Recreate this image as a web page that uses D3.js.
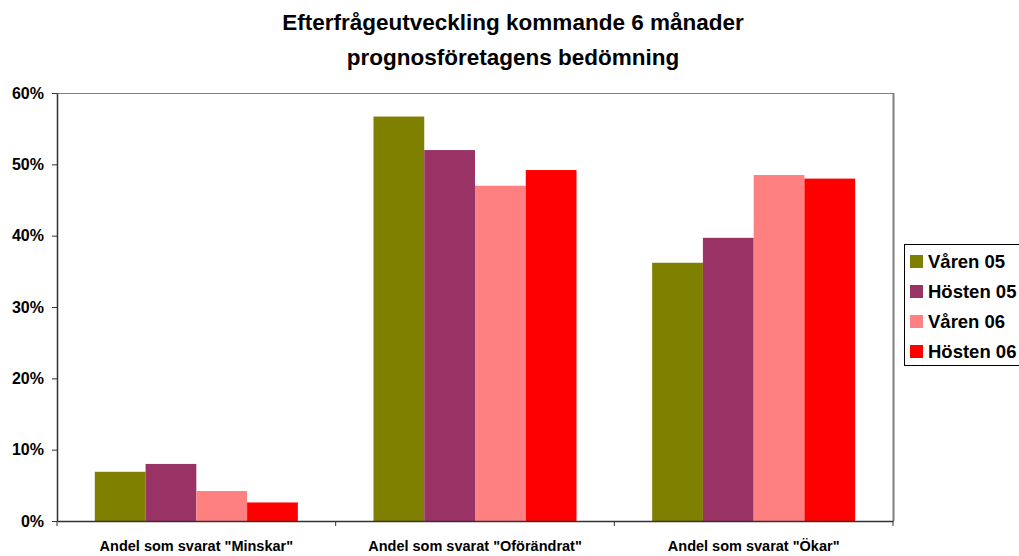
<!DOCTYPE html>
<html>
<head>
<meta charset="utf-8">
<script src="https://cdn.jsdelivr.net/npm/d3@7"></script>
<style>
  body { margin: 0; background: #fff; }
  svg text { font-family: "Liberation Sans", Arial, sans-serif; font-weight: bold; fill: #000; }
</style>
</head>
<body>
<svg id="chart"></svg>
<script>
// chart data
const categories = ['Andel som svarat "Minskar"', 'Andel som svarat "Oförändrat"', 'Andel som svarat "Ökar"'];
const seriesNames = ['Våren 05', 'Hösten 05', 'Våren 06', 'Hösten 06'];
const seriesColors = ['#808000', '#993366', '#ff8080', '#ff0000'];
const varen05 = [0.069, 0.567, 0.362];
const hosten05 = [0.080, 0.520, 0.397];
const varen06 = [0.042, 0.470, 0.485];
const hosten06 = [0.026, 0.492, 0.480];
const yTicks = [0, 0.1, 0.2, 0.3, 0.4, 0.5, 0.6];
const titleLines = ['Efterfrågeutveckling kommande 6 månader', 'prognosföretagens bedömning'];

const seriesValues = [varen05, hosten05, varen06, hosten06];

const W = 1019, H = 556;
const margin = { top: 93, left: 57, right: 126, bottom: 35 };
const width = W - margin.left - margin.right;
const height = H - margin.top - margin.bottom;

const svg = d3.select('#chart').attr('width', W).attr('height', H);

// title
svg.selectAll('.chart-title')
  .data(titleLines)
  .join('text')
  .attr('class', 'chart-title')
  .attr('x', 513)
  .attr('y', (d, i) => 30 + i * 35)
  .style('text-anchor', 'middle')
  .style('font-size', '22.5px')
  .text(d => d);

const chart = svg.append('g')
  .attr('transform', `translate(${margin.left},${margin.top})`);

const xScale = d3.scaleBand().domain(categories).range([0, width]);
const xInner = d3.scaleBand().domain(seriesNames)
  .range([0, xScale.bandwidth()])
  .paddingOuter(0.745)
  .paddingInner(0);
const yScale = d3.scaleLinear().domain([0, 0.6]).range([height, 0]);

// plot frame (top + right grey)
chart.append('line')
  .attr('x1', 0).attr('x2', width).attr('y1', 0.5).attr('y2', 0.5)
  .attr('stroke', '#808080');
chart.append('line')
  .attr('x1', width + 0.5).attr('x2', width + 0.5).attr('y1', 0).attr('y2', height)
  .attr('stroke', '#808080').attr('stroke-width', 2);

// bars
const groups = chart.selectAll('.series')
  .data(seriesNames)
  .join('g')
  .attr('class', 'series')
  .attr('fill', (d, i) => seriesColors[i]);

groups.selectAll('rect')
  .data((s, i) => categories.map((c, j) => ({ cat: c, series: s, value: seriesValues[i][j] })))
  .join('rect')
  .attr('x', d => xScale(d.cat) + xInner(d.series))
  .attr('width', xInner.bandwidth())
  .attr('y', d => yScale(d.value))
  .attr('height', d => height - yScale(d.value));

// y axis
const yAxis = d3.axisLeft(yScale)
  .tickValues(yTicks)
  .tickFormat(d3.format('.0%'))
  .tickSize(5)
  .tickSizeOuter(0);
const yAxisG = chart.append('g').attr('class', 'axis y-axis').call(yAxis);
yAxisG.select('.domain').attr('stroke', '#333').attr('stroke-width', 1.5);
yAxisG.selectAll('.tick line').attr('stroke', '#333');
yAxisG.selectAll('.tick text')
  .attr('x', -13)
  .style('font-size', '16px')
  .style('font-family', '"Liberation Sans", Arial, sans-serif');

// x axis
const xAxis = d3.axisBottom(xScale).tickSize(0).tickSizeOuter(0);
const xAxisG = chart.append('g')
  .attr('class', 'axis x-axis')
  .attr('transform', `translate(0,${height})`)
  .call(xAxis);
xAxisG.select('.domain').attr('stroke', '#333').attr('stroke-width', 1.5);
xAxisG.selectAll('.tick text')
  .attr('y', 20)
  .style('font-size', '14.5px')
  .style('font-family', '"Liberation Sans", Arial, sans-serif');

// category boundary ticks
chart.selectAll('.cat-tick')
  .data(categories.concat(['end']))
  .join('line')
  .attr('class', 'cat-tick')
  .attr('x1', (d, i) => i * xScale.step())
  .attr('x2', (d, i) => i * xScale.step())
  .attr('y1', height)
  .attr('y2', height + 5)
  .attr('stroke', '#333');

// legend
const legend = svg.append('g').attr('transform', 'translate(904,244)');
legend.append('rect')
  .attr('x', 0.5).attr('y', 0.5)
  .attr('width', 118).attr('height', 121)
  .attr('fill', '#fff').attr('stroke', '#000');
const items = legend.selectAll('.legend-item')
  .data(seriesNames)
  .join('g')
  .attr('class', 'legend-item')
  .attr('transform', (d, i) => `translate(0,${17 + i * 30})`);
items.append('rect')
  .attr('x', 6).attr('y', -6)
  .attr('width', 13).attr('height', 13)
  .attr('fill', (d, i) => seriesColors[i]);
items.append('text')
  .attr('x', 24)
  .attr('y', 7)
  .style('font-size', '18.5px')
  .text(d => d);
</script>
</body>
</html>
